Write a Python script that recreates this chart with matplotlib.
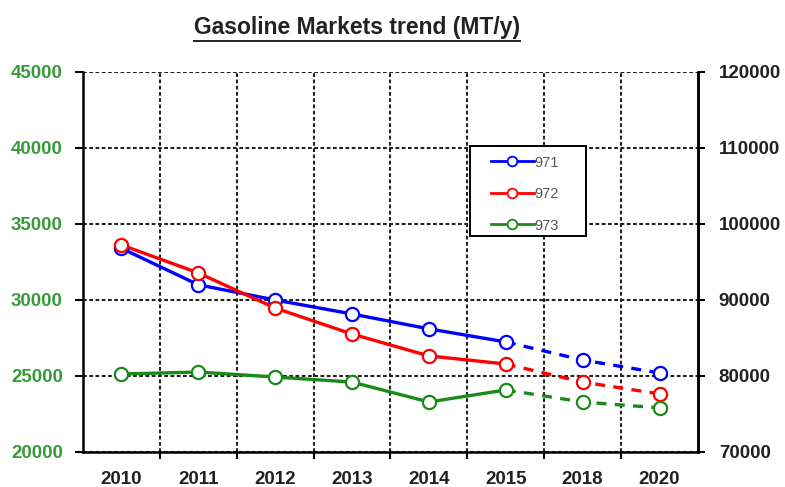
import matplotlib
matplotlib.use("Agg")
from matplotlib import pyplot as plt
from matplotlib.lines import Line2D
from matplotlib.patches import Rectangle

plt.rcParams['font.family'] = ['Liberation Sans', 'DejaVu Sans']

years = ['2010', '2011', '2012', '2013', '2014', '2015', '2018', '2020']
s971 = [33400, 31000, 30000, 29080, 28100, 27240, 26050, 25200]
s972 = [33620, 31780, 29470, 27760, 26320, 25790, 24600, 23820]
s973 = [25130, 25260, 24930, 24600, 23290, 24080, 23290, 22900]
names = ['971', '972', '973']
colors = ['#0000ff', '#ff0000', '#1a8a1a']
left_ticks = [20000, 25000, 30000, 35000, 40000, 45000]
right_ticks = [70000, 80000, 90000, 100000, 110000, 120000]

fig = plt.figure(figsize=(7.85, 4.87), dpi=100)
ax = fig.add_axes([0.1057, 0.0719, 0.7834, 0.7803])
x = list(range(len(years)))
split = 5  # last solid point (2015), forecast dashed afterwards

handles = []
for vals, c, n in zip([s971, s972, s973], colors, names):
    ax.plot(x[:split + 1], vals[:split + 1], color=c, lw=2.4, zorder=3)
    ax.plot(x[split:], vals[split:], color=c, lw=2.4, dashes=(3, 2.5), zorder=3)
    ax.plot(x, vals, ls='none', marker='o', ms=9.5, mfc='white', mec=c,
            mew=1.6, zorder=4)
    handles.append(Line2D([], [], color=c, lw=2, marker='o', ms=7,
                          mfc='white', mec=c, mew=1.3))

grid_ls = (0, (1.8, 1.2))
ax.set_xlim(-0.5, len(years) - 0.5)
ax.set_ylim(20000, 45000)
ax.set_xticks(x)
ax.set_xticklabels(years, fontsize=13.5, fontweight='bold', color='#222222')
ax.set_xticks([i + 0.5 for i in range(len(years) - 1)], minor=True)
ax.tick_params(axis='x', which='major', length=0, pad=14)
ax.tick_params(axis='x', which='minor', length=5, width=1.5, direction='out')
ax.set_yticks(left_ticks)
ax.set_yticklabels([str(v) for v in left_ticks], fontsize=13.5,
                   fontweight='bold', color='#3a9a3a')
ax.tick_params(axis='y', length=6, width=1.5, direction='out', pad=8.5)

ax.grid(True, axis='x', which='minor', color='#222222', ls=grid_ls, lw=1.5)
ax.grid(True, axis='y', which='major', color='#222222', ls=grid_ls, lw=1.5)
ax.grid(False, axis='x', which='major')
ax.set_axisbelow(True)
for side in ['left', 'bottom', 'right']:
    ax.spines[side].set_linewidth(1.8)
ax.spines['top'].set_visible(False)

ax2 = ax.twinx()
ax2.set_ylim(70000, 120000)
ax2.set_yticks(right_ticks)
ax2.set_yticklabels([str(v) for v in right_ticks], fontsize=13.5,
                    fontweight='bold', color='#222222')
ax2.tick_params(axis='y', length=5, width=1.5, direction='out', pad=10)
ax2.spines['top'].set_visible(False)
ax2.spines['right'].set_linewidth(1.8)
ax2.spines['left'].set_visible(False)
ax2.spines['bottom'].set_visible(False)

# legend box drawn separately so the padding can differ per side
ax2.add_patch(Rectangle((0.629, 0.568), 0.189, 0.237, transform=ax2.transAxes,
                        facecolor='white', edgecolor='black', lw=1.4,
                        zorder=5))
leg = ax2.legend(handles, names, loc='upper left',
                 bbox_to_anchor=(0.664, 0.78), fontsize=10.5, frameon=False,
                 handlelength=2.9, handletextpad=0.05, labelspacing=1.2,
                 borderpad=0, borderaxespad=0)
leg.set_zorder(6)
for t in leg.get_texts():
    t.set_color('#555555')

title = fig.text(0.455, 0.944, 'Gasoline Markets trend (MT/y)', ha='center',
                 va='center', fontsize=16.5, fontweight='bold', color='#222222')
fig.canvas.draw()
bb = title.get_window_extent().transformed(fig.transFigure.inverted())
fig.add_artist(Line2D([bb.x0, bb.x1], [bb.y0 - 0.005, bb.y0 - 0.005],
                      transform=fig.transFigure, color='#222222', lw=1.4))

fig.savefig('out.png', dpi=100)
